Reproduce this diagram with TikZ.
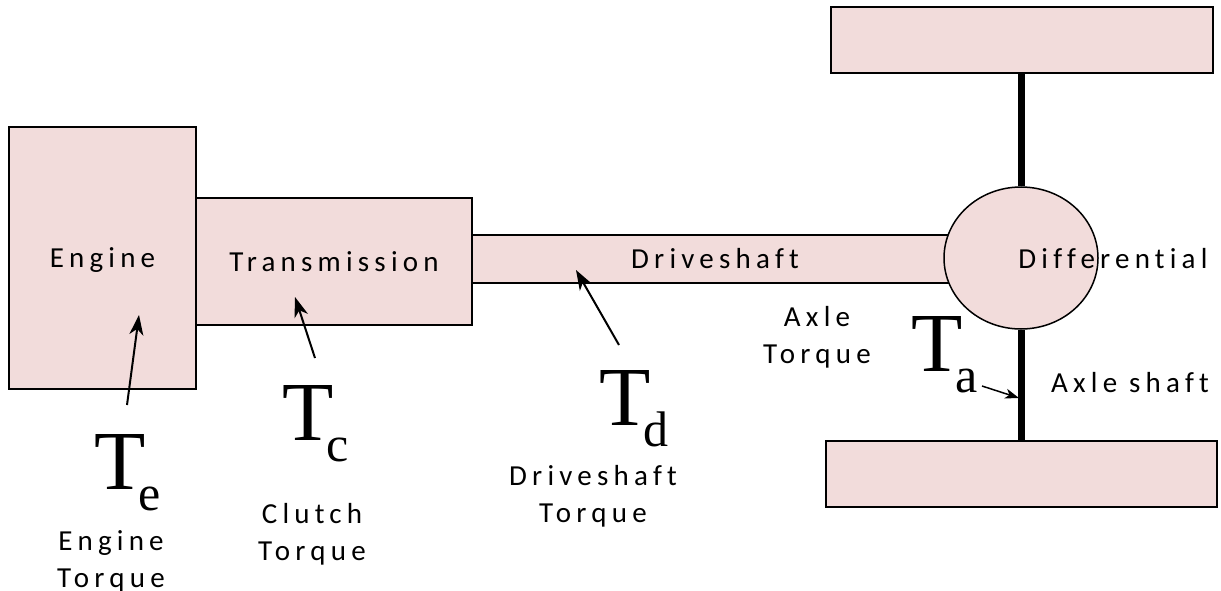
\documentclass[tikz,border=0pt]{standalone}
\usepackage{fontspec}
\usepackage{xcolor}
\usepackage{tikz}
\usetikzlibrary{shapes.geometric,arrows.meta,positioning}
\newfontfamily\lblfont{Carlito}[LetterSpace=18,Ligatures=NoCommon]
\newfontfamily\symfont{Liberation Serif}
\definecolor{partfill}{HTML}{F2DCDB}
\newcommand{\torq}[1]{{\symfont\fontsize{84}{84}\selectfont T\kern-7pt\raisebox{-21pt}{\fontsize{50}{50}\selectfont #1}}}

\begin{document}
\begin{tikzpicture}[x=1pt,y=-1pt]
    \tikzset{
      part/.style={draw=black,fill=partfill,line width=1.5pt,inner sep=0pt,
        font=\lblfont\fontsize{29}{37}\selectfont,text height=19pt,text depth=0pt},
      lbl/.style={font=\lblfont\fontsize{29}{37}\selectfont,inner sep=0pt,
        align=center,anchor=base},
      torqsym/.style={inner sep=0pt,anchor=base west},
      shaft/.style={line width=7pt},
      push/.style={line width=2pt,-{Stealth[length=20pt,width=14pt,inset=6pt]}}
    }
    \useasboundingbox (0,0) rectangle (1221,591);
    % drivetrain parts
    \node[part,minimum width=187pt,minimum height=262pt] (engine) at (102.5,258) {Engine};
    \node[part,minimum width=276pt,minimum height=127pt] (trans) at (334,261.5) {Transmission};
    \node[part,minimum width=486pt,minimum height=48pt] (drive) at (715,259) {Driveshaft};
    \node[part,ellipse,minimum width=154pt,minimum height=142pt] (diff) at (1021,258) {};
    \node[part,minimum width=382pt,minimum height=66pt] (wtop) at (1022,40) {};
    \node[part,minimum width=391pt,minimum height=66pt] (wbot) at (1021.5,474) {};
    \draw[shaft] (diff.north) -- (diff.north |- wtop.south);
    \draw[shaft] (diff.south) -- (diff.south |- wbot.north);
    \node[lbl] (difflbl) at (1113,268) {Differential};
    \node[lbl] (axlelbl) at (1130,392) {Axle shaft};
    % torques
    \node[torqsym] (te) at (94,489) {\torq{e}};
    \node[torqsym] (tc) at (282,440) {\torq{c}};
    \node[torqsym] (td) at (599,425) {\torq{d}};
    \node[torqsym] (ta) at (911,371) {\torq{a}};
    \node[lbl] (enginetq) at (111,587) {Engine\\Torque};
    \node[lbl] (clutchtq) at (312,560) {Clutch\\Torque};
    \node[lbl] (drivetq) at (593,522) {Driveshaft\\Torque};
    \node[lbl] (axletq) at (817,363) {Axle\\Torque};
    \coordinate (te-tail) at (127,405);
    \coordinate (te-tip) at (139,315);
    \coordinate (tc-tail) at (315,358);
    \coordinate (tc-tip) at (295,297);
    \coordinate (td-tail) at (619,345);
    \coordinate (td-tip) at (576,270);
    \coordinate (ta-tail) at (982,386);
    \coordinate (ta-tip) at (1019,398);
    \draw[push] (te-tail) -- (te-tip);
    \draw[push] (tc-tail) -- (tc-tip);
    \draw[push] (td-tail) -- (td-tip);
    \draw[push,line width=1.5pt,-{Stealth[length=14pt,width=10pt,inset=4pt]}] (ta-tail) -- (ta-tip);
\end{tikzpicture}
\end{document}
